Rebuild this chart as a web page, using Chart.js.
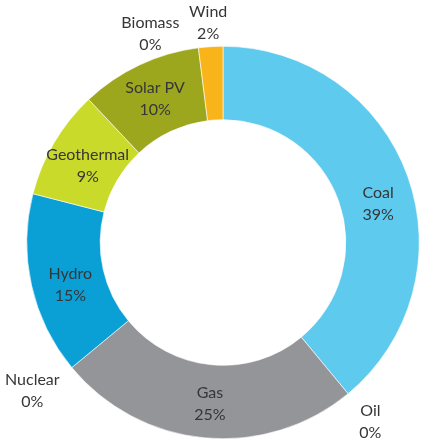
<!DOCTYPE html>
<html>
<head>
<meta charset="utf-8">
<script src="https://cdn.jsdelivr.net/npm/chart.js@4.4.1/dist/chart.umd.min.js"></script>
<style>
  html, body { margin: 0; padding: 0; background: #fff; }
  #wrap { width: 421px; height: 442px; position: relative; }
</style>
</head>
<body>
<div id="wrap"><canvas id="mix-chart"></canvas></div>
<script>
// generation mix, clockwise from 12 o'clock
const sources = ["Coal", "Oil", "Gas", "Nuclear", "Hydro", "Geothermal", "Solar PV", "Biomass", "Wind"];
const shares = [39, 0, 25, 0, 15, 9, 10, 0, 2];
const sliceColors = ["#5ecaed", "#5ecaed", "#939598", "#939598", "#0aa0d6", "#c9da2a", "#9ca71e", "#9ca71e", "#f9b41a"];

// hand tweaks (px) so labels sit nicely; small slices go outside the ring
const labelNudge = {
  "Coal": [5, 15],
  "Gas": [2, 3],
  "Hydro": [3, 8],
  "Geothermal": [2, 5],
  "Solar PV": [0, 1],
  "Oil": [7, 10],
  "Nuclear": [-21, 8],
  "Biomass": [-45, 10],
  "Wind": [-1, 0],
};

// draws "name / xx%" labels on or next to each slice
const sliceLabels = {
  id: "sliceLabels",
  afterDatasetsDraw(chart) {
    const ctx = chart.ctx;
    const meta = chart.getDatasetMeta(0);
    ctx.save();
    ctx.font = "16px Lato, 'Open Sans', sans-serif";
    ctx.fillStyle = "#363636";
    ctx.textAlign = "center";
    ctx.textBaseline = "middle";

    meta.data.forEach((arc, i) => {
      const value = shares[i];
      const p = arc.getProps(["x", "y", "startAngle", "endAngle", "innerRadius", "outerRadius"], true);
      const mid = (p.startAngle + p.endAngle) / 2;
      // inside: middle of the ring, outside: just past the outer edge
      const r = value >= 5 ? (p.innerRadius + p.outerRadius) / 2 : p.outerRadius + 24;
      const nudge = labelNudge[sources[i]] || [0, 0];
      const x = p.x + Math.cos(mid) * r + nudge[0];
      const y = p.y + Math.sin(mid) * r + nudge[1];
      ctx.fillText(sources[i], x, y - 11);
      ctx.fillText(value + "%", x, y + 11);
    });
    ctx.restore();
  }
};

const mixConfig = {
  type: "doughnut",
  data: {
    labels: sources,
    datasets: [
      {
        data: shares,
        backgroundColor: sliceColors,
        borderColor: "#ffffff",
        borderWidth: 0.6,
        hoverOffset: 0,
      }
    ],
  },
  options: {
    responsive: true,
    maintainAspectRatio: false,
    animation: false,
    cutout: "62.6%",
    layout: {
      padding: { left: 26.5, right: 1.5, top: 46, bottom: 3 },
    },
    plugins: {
      legend: { display: false },
      tooltip: { enabled: false },
    },
  },
  plugins: [sliceLabels],
};

const mixChart = new Chart(document.getElementById("mix-chart"), mixConfig);
</script>
</body>
</html>
